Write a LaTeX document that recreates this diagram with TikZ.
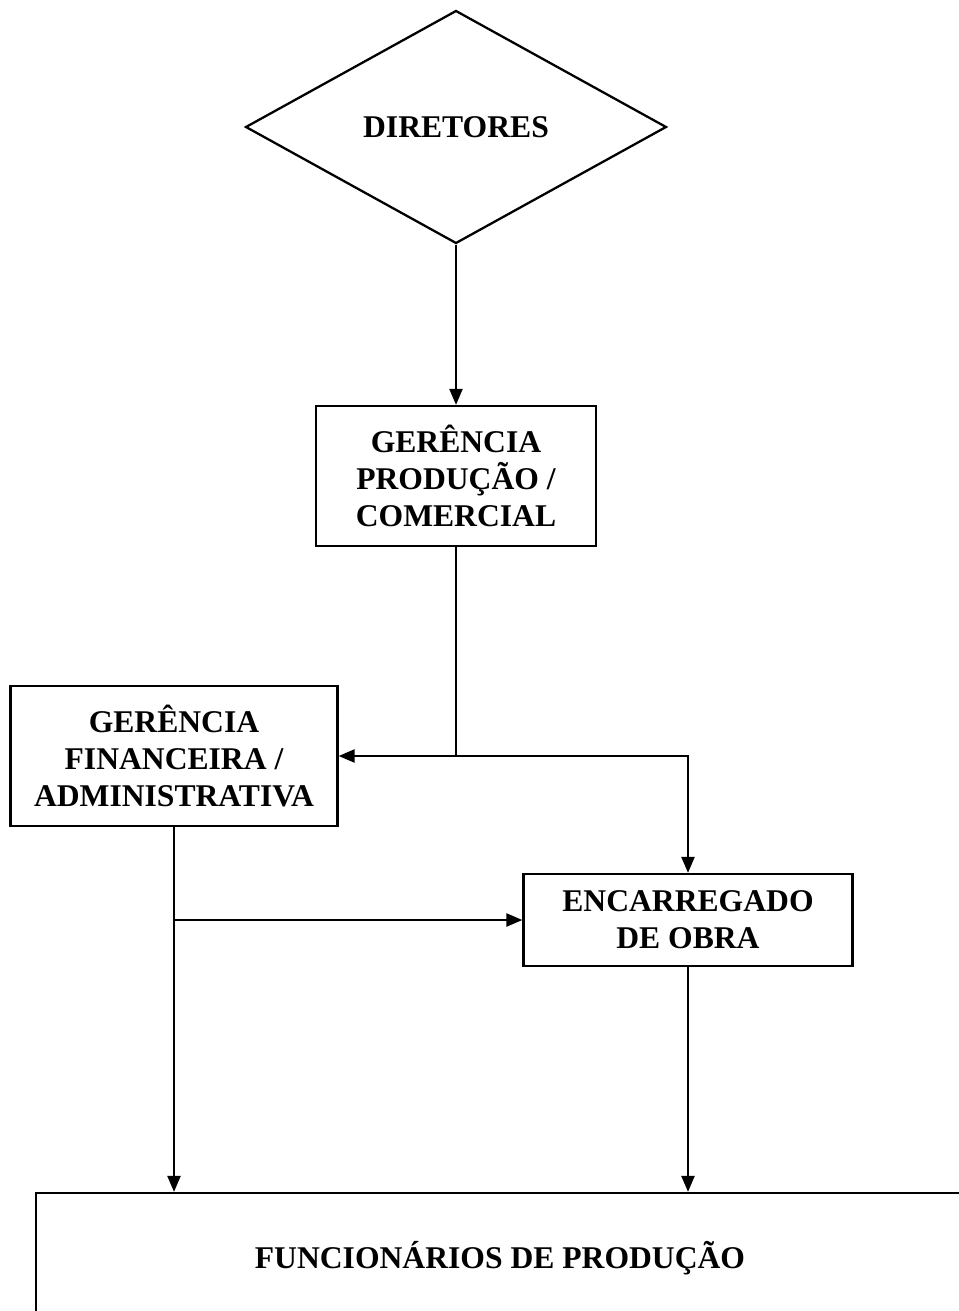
\documentclass[tikz,border=0pt]{standalone}
\usepackage{fontspec}
\setmainfont{Liberation Serif}
\usetikzlibrary{shapes.geometric,arrows.meta}
\begin{document}
\begin{tikzpicture}[x=0.02cm,y=-0.02cm,
    box/.style={draw,line width=1.3pt,align=center,inner sep=0pt,
      font=\fontsize{18}{21}\selectfont\bfseries},
    arr/.style={line width=1.3pt,-{Triangle[length=0.32cm,width=0.26cm]}},
    ln/.style={line width=1.3pt}]
      \useasboundingbox (0,0) rectangle (958,1311);
      \node[box,shape=diamond,minimum width=8.42cm,minimum height=4.66cm] (dir) at (456,127) {DIRETORES};
      \node[box,minimum width=5.6cm,minimum height=2.8cm] (gp) at (456,476) {GERÊNCIA\\PRODUÇÃO /\\COMERCIAL};
      \node[box,minimum width=6.54cm,minimum height=2.8cm] (gf) at (174,756) {GERÊNCIA\\FINANCEIRA /\\ADMINISTRATIVA};
      \node[box,minimum width=6.58cm,minimum height=1.84cm] (enc) at (688,920) {ENCARREGADO\\DE OBRA};
      \node[box,minimum width=18.56cm,minimum height=2.6cm] (func) at (500,1258) {FUNCIONÁRIOS DE PRODUÇÃO};
      \coordinate (j1) at (gp.south|-gf.east);
      \coordinate (j2) at (gf.south|-enc.west);
      \draw[arr] (dir.south) -- (gp.north);
      \draw[ln] (gp.south) -- (j1);
      \draw[arr] (j1) -- (gf.east);
      \draw[arr] (j1) -| (enc.north);
      \draw[arr] (gf.south) -- (gf.south|-func.north);
      \draw[arr] (j2) -- (enc.west);
      \draw[arr] (enc.south) -- (enc.south|-func.north);
    \end{tikzpicture}
\end{document}
